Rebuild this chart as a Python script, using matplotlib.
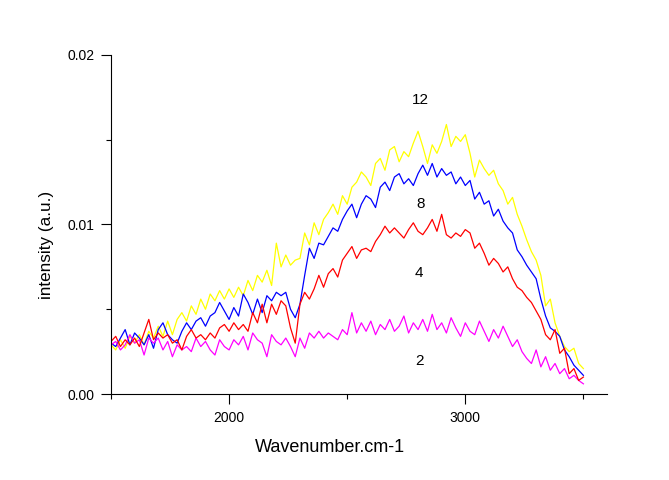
import matplotlib
matplotlib.use("Agg")
import matplotlib.pyplot as plt
import numpy as np
from matplotlib.ticker import MultipleLocator

plt.rcParams["font.family"] = ["Liberation Sans", "DejaVu Sans"]

# wavenumber grid (cm-1), 20 cm-1 step
wavenumber = np.arange(1500, 3501, 20)

# intensities in units of 1e-3 a.u.
int_12 = [
    2.9, 2.6, 3.2, 2.7, 3.4, 3.0, 3.5, 2.9, 3.7, 3.3,
    4.0, 3.4, 4.3, 3.5, 4.4, 4.8, 4.3, 5.2, 4.7, 5.6,
    5.0, 5.9, 5.5, 6.1, 5.6, 6.2, 5.7, 6.3, 5.8, 6.7,
    6.1, 7.0, 6.6, 7.3, 6.4, 8.9, 7.5, 8.2, 7.6, 7.9,
    8.0, 9.5, 8.8, 10.1, 9.4, 10.3, 10.7, 11.2, 10.6, 11.7,
    11.2, 12.2, 12.5, 13.1, 12.8, 12.3, 13.6, 13.9, 13.2, 14.4,
    14.6, 13.7, 14.3, 14.0, 14.8, 15.5, 14.6, 13.6, 14.7, 14.2,
    14.9, 15.9, 14.6, 15.2, 14.9, 15.3, 14.2, 12.8, 13.8, 13.3,
    12.9, 13.2, 12.4, 12.0, 11.2, 11.6, 10.6, 9.9, 9.1, 8.4,
    7.9, 7.0, 5.2, 5.6, 4.2, 3.4, 2.8, 2.5, 2.7, 1.8,
    1.5,
]
int_8 = [
    3.0, 2.8, 3.3, 3.8, 2.9, 3.6, 3.3, 2.9, 3.5, 2.7,
    3.8, 4.2, 3.5, 3.2, 3.0, 3.7, 4.2, 3.8, 4.3, 4.5,
    4.0, 4.6, 4.8, 5.4, 4.9, 4.4, 5.1, 4.6, 5.9, 5.4,
    4.7, 5.6, 4.8, 5.8, 5.5, 6.0, 5.8, 6.0, 5.0, 4.5,
    5.3, 7.0, 8.6, 8.0, 8.9, 8.8, 9.3, 9.8, 9.6, 10.3,
    10.8, 11.2, 10.4, 11.2, 11.7, 11.5, 11.0, 12.2, 12.5, 12.0,
    12.8, 13.0, 12.4, 12.7, 12.3, 13.0, 13.5, 12.9, 13.6, 12.8,
    13.3, 12.9, 13.1, 12.4, 12.8, 12.3, 12.6, 11.5, 11.9, 11.2,
    11.4, 10.5, 10.9, 10.2, 9.8, 9.5, 8.5, 8.1, 7.6, 7.2,
    6.8, 5.6, 4.6, 3.9, 3.7, 3.4, 2.6, 2.2, 1.7, 1.4,
    1.1,
]
int_4 = [
    3.1, 3.4, 2.8, 3.2, 2.9, 3.3, 2.8, 3.6, 4.4, 3.2,
    3.6, 3.3, 3.5, 3.0, 3.2, 2.6, 3.4, 3.8, 3.3, 3.5,
    3.2, 3.6, 3.3, 3.9, 4.1, 3.7, 4.2, 3.8, 4.1, 3.7,
    4.8, 4.2, 5.3, 4.2, 5.3, 4.7, 5.5, 5.2, 3.9, 3.0,
    5.3, 6.0, 5.6, 6.2, 7.0, 6.3, 7.1, 7.4, 6.9, 7.9,
    8.3, 8.7, 8.0, 8.5, 8.6, 8.4, 9.0, 9.4, 9.9, 9.5,
    9.8, 9.5, 9.2, 9.7, 10.1, 9.6, 9.4, 9.8, 10.3, 9.6,
    10.6, 9.4, 9.2, 9.5, 9.3, 9.7, 9.5, 8.6, 8.9, 8.3,
    7.6, 8.0, 7.7, 7.2, 7.5, 6.8, 6.3, 6.1, 5.7, 5.4,
    4.9, 4.4, 3.5, 3.2, 3.8, 2.4, 2.7, 1.2, 1.5, 0.8,
    1.0,
]
int_2 = [
    2.9, 3.1, 2.6, 2.9, 3.5, 3.0, 3.2, 2.3, 3.3, 3.0,
    3.3, 2.6, 3.1, 2.2, 2.9, 2.6, 2.8, 2.5, 3.3, 2.8,
    3.1, 2.6, 2.3, 3.2, 2.8, 2.6, 3.2, 2.9, 3.4, 2.6,
    3.6, 3.2, 3.0, 2.2, 3.5, 3.1, 2.9, 3.3, 2.8, 2.2,
    3.3, 2.7, 3.6, 3.3, 3.7, 3.3, 3.6, 3.4, 3.2, 3.8,
    3.5, 4.8, 3.6, 4.2, 3.7, 4.3, 3.5, 4.1, 3.8, 4.4,
    3.7, 4.0, 4.6, 3.6, 4.2, 3.8, 4.4, 3.7, 4.7, 3.8,
    4.2, 3.6, 4.5, 3.9, 3.4, 4.2, 3.7, 3.5, 4.3, 3.7,
    3.1, 3.8, 3.3, 4.0, 3.4, 2.8, 3.2, 2.5, 2.1, 1.8,
    2.6, 1.6, 2.2, 1.4, 1.8, 1.2, 1.5, 0.9, 1.1, 0.8,
    0.6,
]

series = [
    ("12", int_12, "#ffff00"),
    ("8", int_8, "#0000ff"),
    ("2", int_2, "#ff00ff"),
    ("4", int_4, "#ff0000"),
]
# label positions (wavenumber, intensity)
label_pos = {"12": (2810, 0.01735), "8": (2810, 0.01121), "4": (2805, 0.00714), "2": (2805, 0.00195)}

fig = plt.figure(figsize=(6.69, 4.8), dpi=100)
ax = fig.add_axes([111 / 669, 86 / 480, 496 / 669, 339 / 480])

for name, vals, col in series:
    ax.plot(wavenumber, np.array(vals) * 1e-3, color=col, lw=0.9)

for name, (x, y) in label_pos.items():
    ax.text(x, y, name, fontsize=11, ha="center", va="center")

ax.set_xlim(1500, 3600)
ax.set_ylim(0, 0.02)
ax.xaxis.set_major_locator(MultipleLocator(1000))
ax.xaxis.set_minor_locator(MultipleLocator(500))
ax.yaxis.set_major_locator(MultipleLocator(0.01))
ax.yaxis.set_minor_locator(MultipleLocator(0.005))
ax.yaxis.set_major_formatter(matplotlib.ticker.FormatStrFormatter("%.2f"))
ax.tick_params(which="major", direction="out", length=7, width=0.8, labelsize=10, pad=5)
ax.tick_params(which="minor", direction="out", length=3.5, width=0.8)
ax.spines["top"].set_visible(False)
ax.spines["right"].set_visible(False)
for s in ("left", "bottom"):
    ax.spines[s].set_linewidth(0.8)

fig.text(330 / 669, 1 - 447 / 480, "Wavenumber.cm-1", fontsize=13, ha="center", va="center")
fig.text(47 / 669, 1 - 245 / 480, "intensity (a.u.)", fontsize=12.3, ha="center", va="center",
         rotation=90)

fig.savefig("out.png", dpi=100)
